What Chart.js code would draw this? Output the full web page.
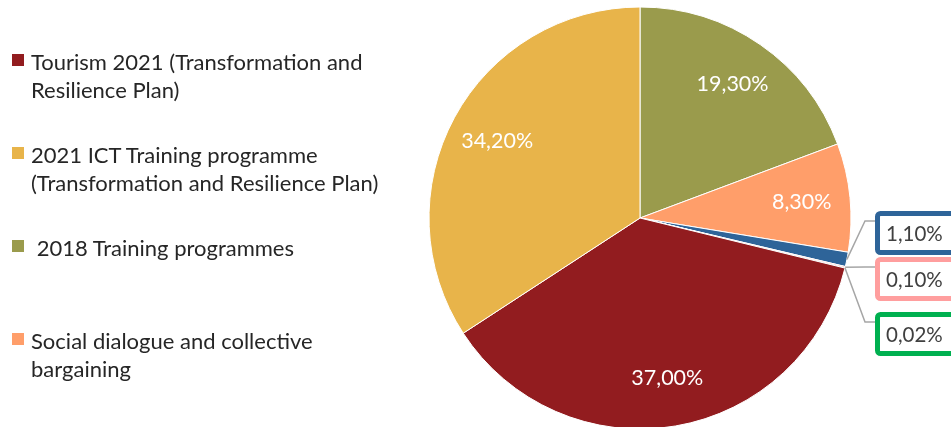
<!DOCTYPE html>
<html>
<head>
<meta charset="utf-8">
<script src="https://cdn.jsdelivr.net/npm/chart.js@4.4.1/dist/chart.umd.min.js"></script>
<style>
  html, body { margin: 0; padding: 0; background: #fff; overflow: hidden; }
  #wrap { position: relative; width: 951px; height: 427px; overflow: hidden; }
  #box { position: absolute; left: 0; top: 0; width: 951px; height: 429px; }
  #legend { position: absolute; left: 0; top: 0; font-family: Lato, sans-serif; font-size: 22px; color: #262626; }
  .item { position: absolute; left: 31px; line-height: 28px; white-space: nowrap; }
  .sw { position: absolute; left: 12px; width: 12px; height: 12px; }
</style>
</head>
<body>
<div id="wrap">
  <div id="box"><canvas id="pieChart"></canvas></div>
  <div id="legend"></div>
</div>
<script>
// slices, clockwise from 12 o'clock
const labels = [
  ' 2018 Training programmes',
  'Social dialogue and collective<br>bargaining',
  '',
  '',
  '',
  'Tourism 2021 (Transformation and<br>Resilience Plan)',
  '2021 ICT Training programme<br>(Transformation and Resilience Plan)'
];
const shares = [19.30, 8.30, 1.10, 0.10, 0.02, 37.00, 34.20];
const colors = ['#9a9b4c', '#ff9e6a', '#2e6499', '#ff9e9e', '#00b050', '#921c1f', '#e8b44a'];
// slices that get a boxed callout instead of an inside label
const calloutBorder = [null, null, '#2e6499', '#ff9e9e', '#00b050', null, null];
// legend order as in the original (only the visible entries)
const legendOrder = [5, 6, 0, 1];

const fmt = v => v.toFixed(2).replace('.', ',') + '%';

// legend (html, so the long names wrap like the original)
const legendEl = document.getElementById('legend');
legendOrder.forEach((idx, n) => {
  const mid = 60 + n * 93;
  const sw = document.createElement('div');
  sw.className = 'sw';
  sw.style.top = (mid - 6) + 'px';
  sw.style.background = colors[idx];
  legendEl.appendChild(sw);
  const it = document.createElement('div');
  it.className = 'item';
  it.style.top = (mid - 12) + 'px';
  it.innerHTML = labels[idx].replace(/^ /, '&nbsp;');
  legendEl.appendChild(it);
});

const sliceLabels = {
  id: 'sliceLabels',
  afterDatasetsDraw(chart) {
    const ctx = chart.ctx;
    const meta = chart.getDatasetMeta(0);
    ctx.save();
    ctx.textBaseline = 'middle';
    let k = 0;
    meta.data.forEach((arc, i) => {
      const p = arc.getProps(['x', 'y', 'startAngle', 'endAngle', 'outerRadius'], true);
      const mid = (p.startAngle + p.endAngle) / 2;
      const txt = fmt(shares[i]);
      if (!calloutBorder[i]) {
        const r = p.outerRadius * 0.77;
        ctx.font = '21.5px Lato';
        ctx.fillStyle = '#fff';
        ctx.textAlign = 'center';
        ctx.fillText(txt, p.x + Math.cos(mid) * r, p.y + Math.sin(mid) * r);
        return;
      }
      const boxTop = p.y + [-7, 39, 94][k];
      const boxLeft = p.x + p.outerRadius + 24;
      k++;
      // leader line
      const ex = p.x + Math.cos(mid) * p.outerRadius;
      const ey = p.y + Math.sin(mid) * p.outerRadius;
      ctx.strokeStyle = '#a6a6a6';
      ctx.lineWidth = 1.5;
      ctx.beginPath();
      ctx.moveTo(ex, ey);
      ctx.lineTo(boxLeft - 10, boxTop + 10);
      ctx.lineTo(boxLeft, boxTop + 10);
      ctx.stroke();
      // box
      ctx.fillStyle = '#fff';
      ctx.strokeStyle = calloutBorder[i];
      ctx.lineWidth = 5;
      ctx.beginPath();
      ctx.roundRect(boxLeft + 2.5, boxTop + 2.5, 100, 39, 3);
      ctx.fill();
      ctx.stroke();
      ctx.font = '20.5px Lato';
      ctx.fillStyle = '#404040';
      ctx.textAlign = 'left';
      ctx.fillText(txt, boxLeft + 11, boxTop + 23);
    });
    ctx.restore();
  }
};

new Chart(document.getElementById('pieChart'), {
  type: 'pie',
  data: {
    labels: labels,
    datasets: [{
      data: shares,
      backgroundColor: colors,
      borderColor: '#ffffff',
      borderWidth: 1
    }]
  },
  options: {
    responsive: true,
    maintainAspectRatio: false,
    animation: false,
    radius: 211,
    layout: { padding: { left: 429, right: 100, top: 7, bottom: 0 } },
    plugins: {
      legend: { display: false },
      tooltip: { enabled: false }
    }
  },
  plugins: [sliceLabels]
});
</script>
</body>
</html>
